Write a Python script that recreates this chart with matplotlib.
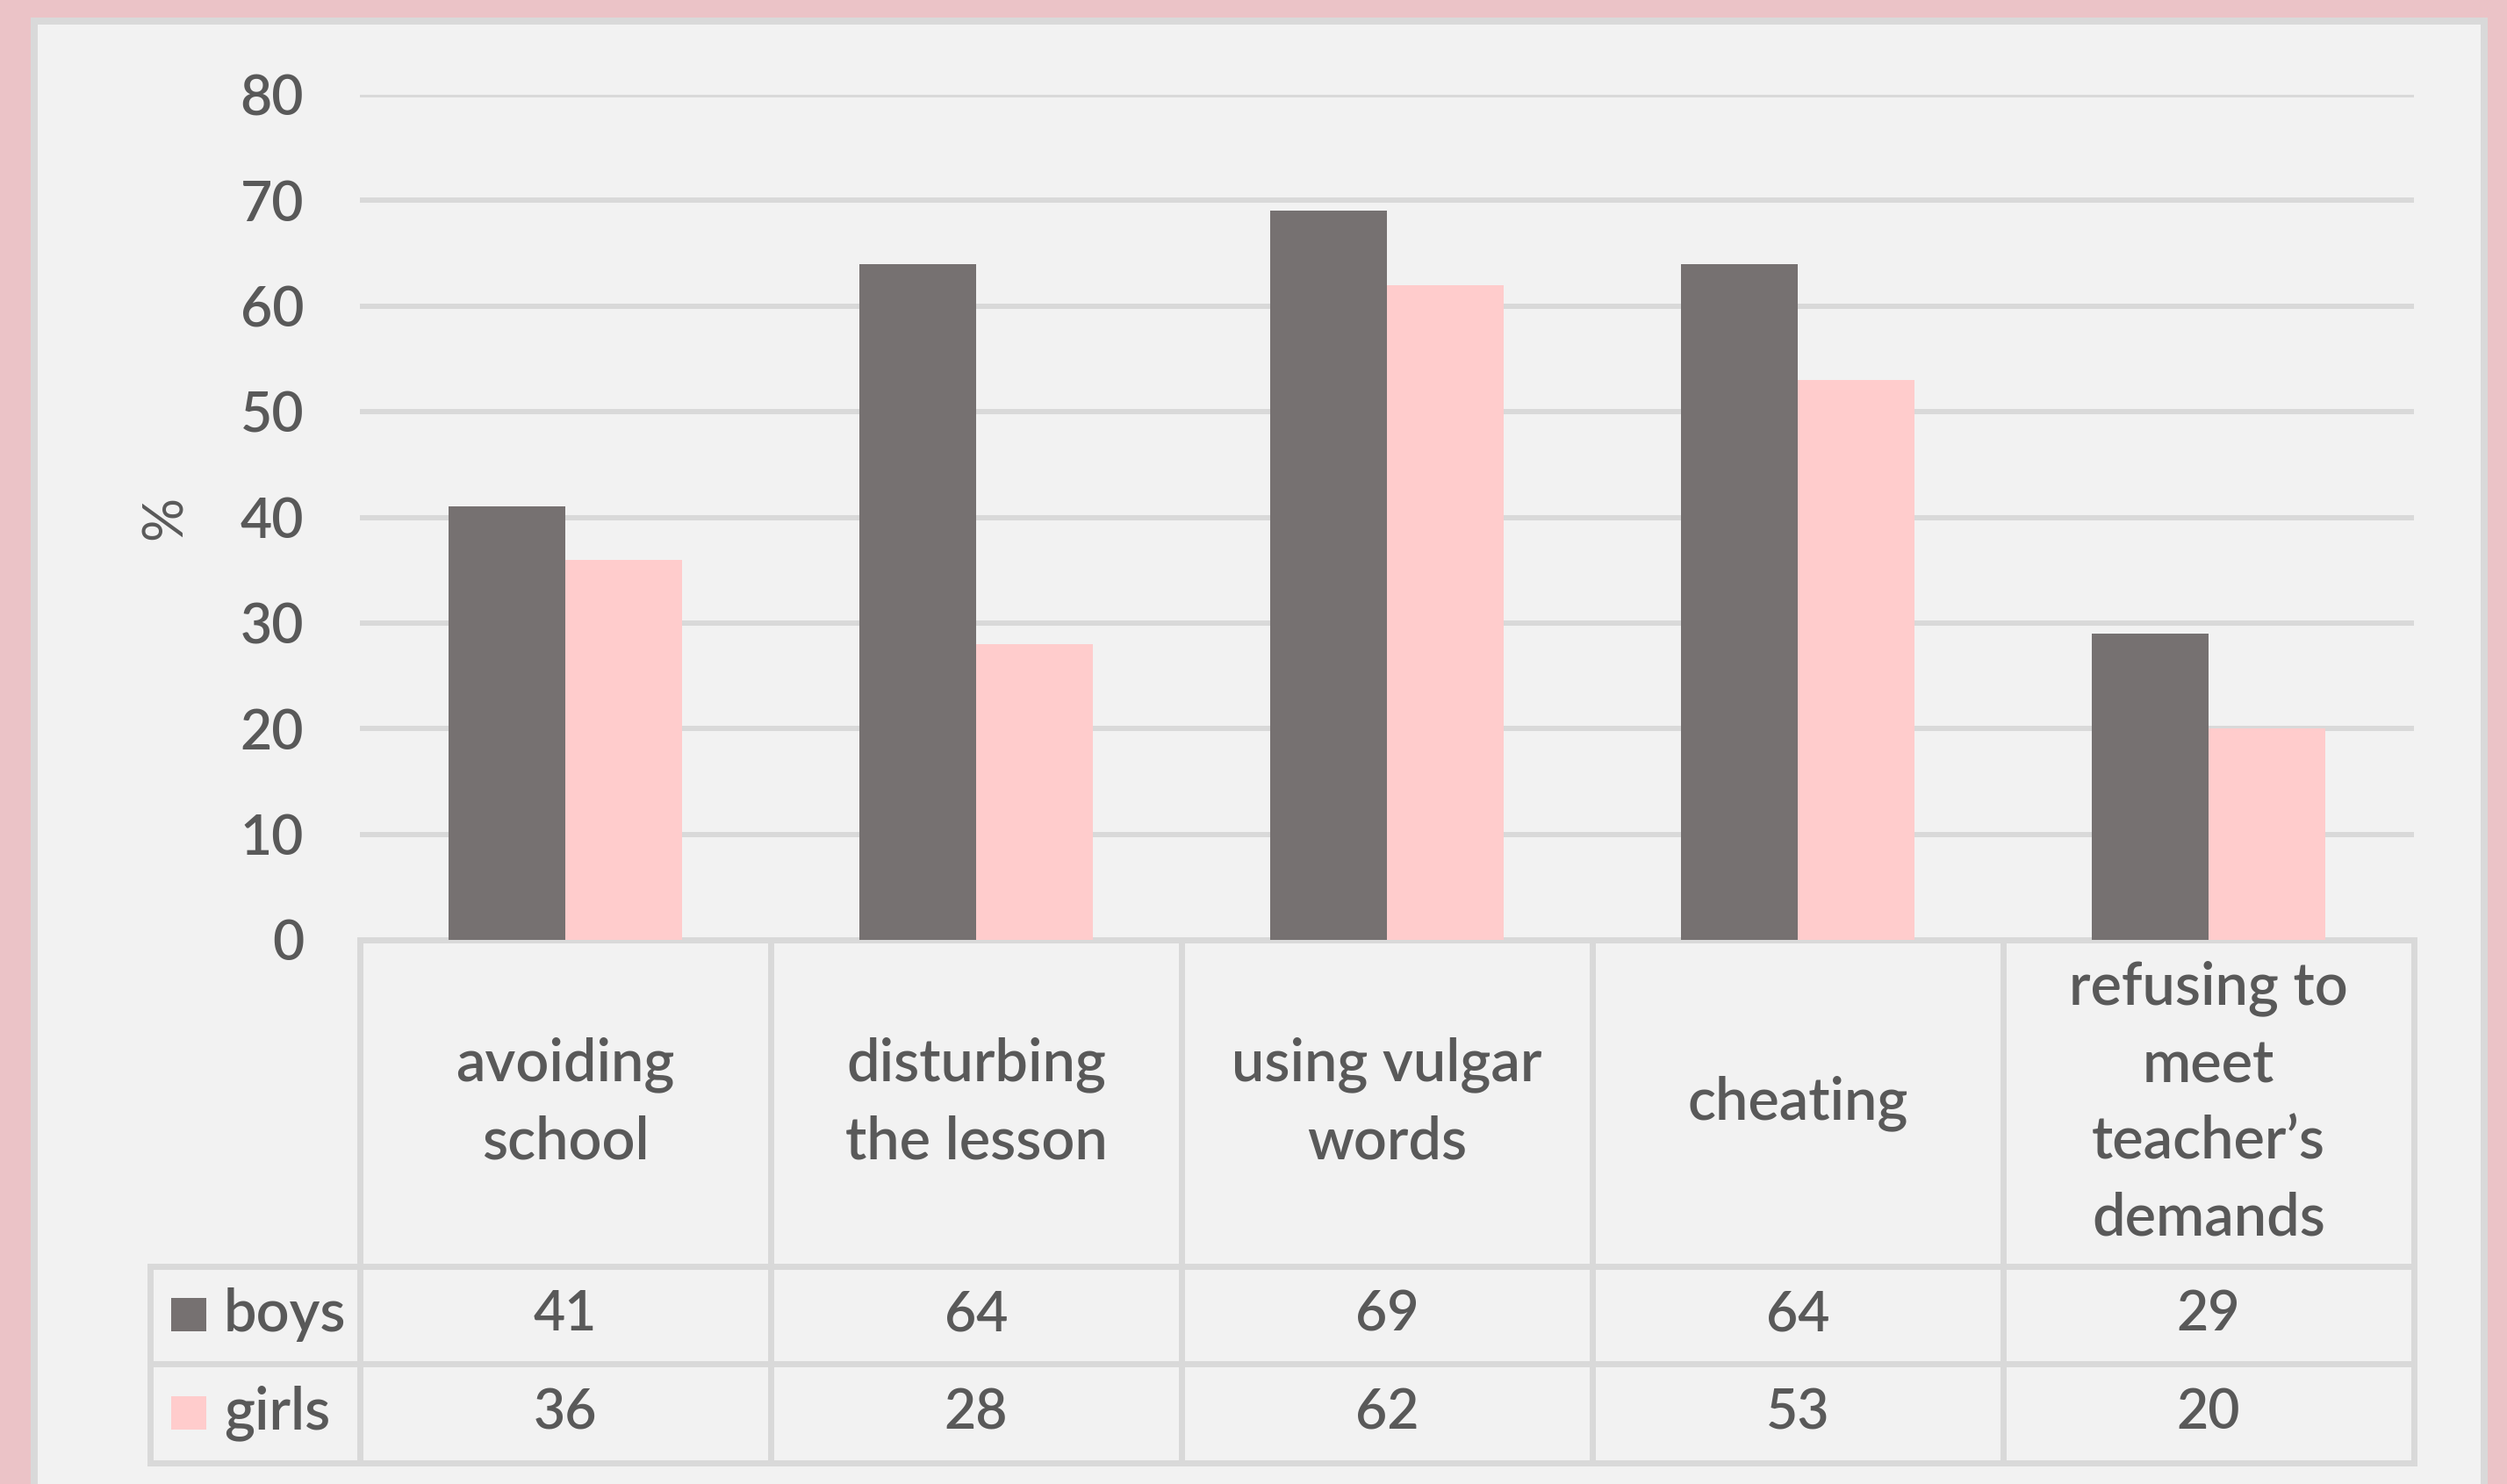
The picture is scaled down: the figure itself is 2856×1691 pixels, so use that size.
import matplotlib
matplotlib.use("Agg")
import matplotlib.pyplot as plt
from matplotlib.patches import Rectangle
import matplotlib.transforms as mtransforms
import numpy as np

categories = ["avoiding\nschool", "disturbing\nthe lesson", "using vulgar\nwords", "cheating",
              "refusing to\nmeet\nteacher\u2019s\ndemands"]
boys = [41, 64, 69, 64, 29]
girls = [36, 28, 62, 53, 20]
series_names = ["boys", "girls"]
yticks = [0, 10, 20, 30, 40, 50, 60, 70, 80]

BOYS_C = "#767171"
GIRLS_C = "#ffcccc"
TXT = "#595959"
GRID = "#d9d9d9"
PANEL = "#f2f2f2"
BG = "#ebc3c7"

plt.rcParams['font.family'] = ['Lato', 'DejaVu Sans']
plt.rcParams['font.weight'] = 'semibold'

W, H = 2856, 1691
DPI = 100
fig = plt.figure(figsize=(W / DPI, H / DPI), dpi=DPI)
fig.patch.set_facecolor(BG)

px2pt = 72 / DPI
panel = Rectangle((39 / W, -0.05), (2830 - 39) / W, 1.05 - 24 / H, transform=fig.transFigure,
                  facecolor=PANEL, edgecolor=GRID, linewidth=8 * px2pt, zorder=-10)
fig.patches.append(panel)

x0, x1 = 410, 2750
y_top, y_bot = 108, 1071
ax = fig.add_axes([x0 / W, 1 - y_bot / H, (x1 - x0) / W, (y_bot - y_top) / H])
ax.set_zorder(5)
ax.set_facecolor("none")
ax.set_xlim(-0.5, len(categories) - 0.5)
ax.set_ylim(0, 80)

x = np.arange(len(categories))
bw = 0.285
ax.bar(x - bw / 2, boys, width=bw, color=BOYS_C, zorder=3)
ax.bar(x + bw / 2, girls, width=bw, color=GIRLS_C, zorder=3)

FS = 45
ax.set_yticks(yticks)
ax.set_yticklabels([str(t) for t in yticks])
ax.set_xticks([])
ax.tick_params(axis='y', length=0, pad=46, labelsize=FS, labelcolor=TXT)
for s in ax.spines.values():
    s.set_visible(False)
for t in yticks[1:]:
    ax.axhline(t, color=GRID, lw=6 * px2pt, zorder=1)

ax.set_ylabel("%", fontsize=FS, color=TXT, labelpad=40)

tr = mtransforms.blended_transform_factory(ax.transData, ax.transAxes)
def fy(ypx):
    return (y_bot - ypx) / (y_bot - y_top)

r0, r1, r2, r3 = fy(1071), fy(1443), fy(1554), fy(1667)
leg_left = -0.5 - (410 - 171) / ((x1 - x0) / len(categories))
lw = 7 * px2pt
n = len(categories)
ax.plot([-0.5, n - 0.5], [r0, r0], transform=tr, color=GRID, lw=lw, clip_on=False, zorder=2)
for r in (r1, r2, r3):
    ax.plot([leg_left, n - 0.5], [r, r], transform=tr, color=GRID, lw=lw, clip_on=False, zorder=2)
for i in range(n + 1):
    ax.plot([i - 0.5, i - 0.5], [r0, r3], transform=tr, color=GRID, lw=lw, clip_on=False, zorder=2)
ax.plot([leg_left, leg_left], [r1, r3], transform=tr, color=GRID, lw=lw, clip_on=False, zorder=2)

for i, c in enumerate(categories):
    ax.text(i, (r0 + r1) / 2, c, transform=tr, ha='center', va='center', fontsize=FS + 3,
            color=TXT, linespacing=1.5, clip_on=False)
for vals, (ra, rb) in zip([boys, girls], [(r1, r2), (r2, r3)]):
    for i, v in enumerate(vals):
        ax.text(i, (ra + rb) / 2, str(v), transform=tr, ha='center', va='center', fontsize=FS,
                color=TXT, clip_on=False)
cell_w = (x1 - x0) / n
for name, col, (ra, rb) in zip(series_names, [BOYS_C, GIRLS_C], [(r1, r2), (r2, r3)]):
    ym = (ra + rb) / 2
    kx = leg_left + (195 - 171) / cell_w
    kw = 40 / cell_w
    kh = 38 / (y_bot - y_top)
    ax.add_patch(Rectangle((kx, ym - kh / 2), kw, kh, transform=tr, facecolor=col,
                           edgecolor='none', clip_on=False))
    ax.text(leg_left + (255 - 171) / cell_w, ym, name, transform=tr, ha='left', va='center',
            fontsize=FS + 3, color=TXT, clip_on=False)

fig.savefig("out.png", dpi=DPI, facecolor=fig.get_facecolor())
